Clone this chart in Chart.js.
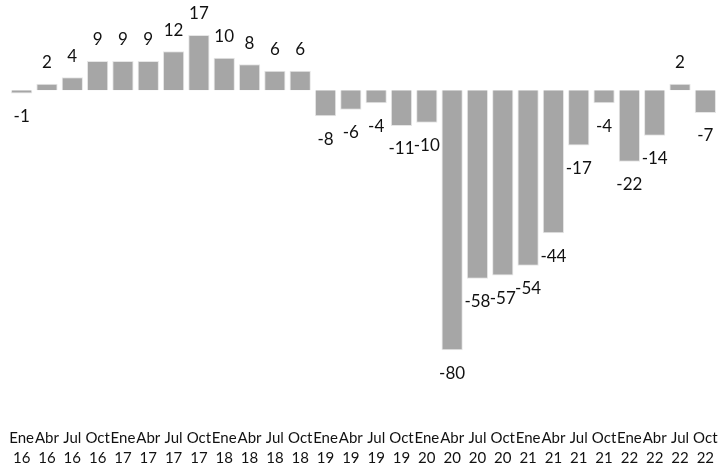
<!DOCTYPE html>
<html>
<head>
<meta charset="utf-8">
<script src="https://cdn.jsdelivr.net/npm/chart.js@4"></script>
<style>
  html, body { margin: 0; padding: 0; background: #fff; }
  #wrap { width: 721px; height: 466px; }
</style>
</head>
<body>
<div id="wrap"><canvas id="chart"></canvas></div>
<script>
// trimestres (mes / año)
const months = ['Ene', 'Abr', 'Jul', 'Oct'];
const years = ['16', '17', '18', '19', '20', '21', '22'];
const labels = years.flatMap(y => months.map(m => [m, y]));

const values = [-1, 2, 4, 9, 9, 9, 12, 17, 10, 8, 6, 6,
  -8, -6, -4, -11, -10, -80, -58, -57, -54, -44, -17, -4, -22, -14, 2, -7];

// etiquetas de valor encima / debajo de cada barra
const barLabels = {
  id: 'barLabels',
  afterDatasetsDraw(chart) {
    const ctx = chart.ctx;
    const meta = chart.getDatasetMeta(0);
    ctx.save();
    ctx.font = '17px Lato';
    ctx.fillStyle = '#111';
    ctx.textAlign = 'center';
    ctx.textBaseline = 'middle';
    meta.data.forEach((bar, i) => {
      const v = values[i];
      const y = v >= 0 ? bar.y - 21 : bar.y + 23;
      ctx.fillText(String(v), bar.x, y);
    });
    ctx.restore();
  }
};

new Chart(document.getElementById('chart'), {
  type: 'bar',
  data: {
    labels: labels,
    datasets: [{
      data: values,
      backgroundColor: '#a6a6a6',
      borderColor: '#e6e6e6',
      borderWidth: 1,
      barPercentage: 0.84,
      categoryPercentage: 1
    }]
  },
  options: {
    responsive: true,
    maintainAspectRatio: false,
    animation: false,
    layout: { padding: { top: 9, left: 9, right: 3, bottom: -5 } },
    scales: {
      x: {
        grid: { display: false, drawTicks: false },
        border: { display: false },
        ticks: {
          color: '#111',
          autoSkip: false,
          maxRotation: 0,
          padding: 3,
          font: { family: 'Lato', size: 15, lineHeight: 1.333 }
        }
      },
      y: {
        display: false,
        min: -103,
        max: 25
      }
    },
    plugins: {
      legend: { display: false },
      tooltip: { enabled: false }
    }
  },
  plugins: [barLabels]
});
</script>
</body>
</html>
